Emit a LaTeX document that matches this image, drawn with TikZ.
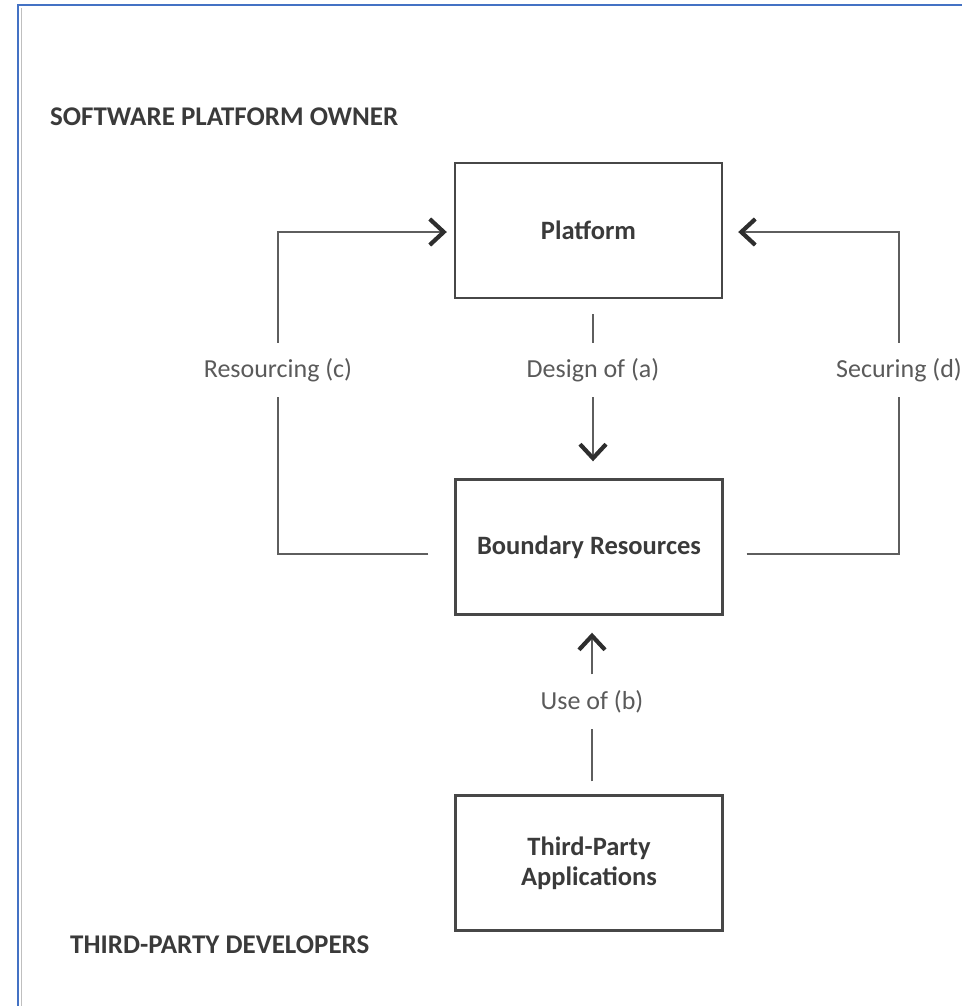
\documentclass[tikz,border=0pt]{standalone}
\usepackage{fontspec}
\setmainfont{Carlito}
\usetikzlibrary{arrows.meta}
\definecolor{frameblue}{HTML}{4472C4}
\definecolor{boxline}{HTML}{474747}
\definecolor{connline}{HTML}{5E5E5E}
\definecolor{tipcolor}{HTML}{2E2E2E}
\definecolor{headtext}{HTML}{3A3A3A}
\definecolor{labeltext}{HTML}{5A5A5A}
\tikzset{
  block/.style={draw=boxline, line width=2.4pt, minimum width=267pt, minimum height=135pt,
    inner sep=0pt, align=center, text=headtext,
    font=\fontsize{26.5pt}{30pt}\selectfont\bfseries},
  heading/.style={anchor=west, inner sep=0pt, text=headtext,
    font=\fontsize{27pt}{30pt}\selectfont\bfseries},
  flowlabel/.style={inner sep=0pt, minimum height=54pt, text=labeltext,
    font=\fontsize{26pt}{30pt}\selectfont},
  conn/.style={draw=connline, line width=1.8pt},
  tip/.style={-{Straight Barb[length=14pt,width=26pt,line width=4.2pt,color=tipcolor]}}
}
\begin{document}
\begin{tikzpicture}[x=1pt,y=-1pt]
  \useasboundingbox (0,0) rectangle (961,1006);
  % page frame (left and top edges)
  \draw[color=black!25, line width=1pt] (21,1010) -- (21,8);
  \draw[frameblue, line width=2pt] (18,1010) -- (18,5) -- (965,5);

  % group headings
  \node[heading] (owner) at (50,117) {SOFTWARE PLATFORM OWNER};
  \node[heading] (devs)  at (70,945) {THIRD-PARTY DEVELOPERS};

  % main blocks
  \node[block] (plat)  at (588.5,230.5) {Platform};
  \node[block] (bound) at (589,547)   {Boundary Resources};
  \node[block] (third) at (589,863)   {Third-Party\\Applications};

  % relation labels
  \node[flowlabel] (laba) at (593,370) {Design of (a)};
  \node[flowlabel] (labb) at (592,701.5) {Use of (b)};
  \node[flowlabel] (labc) at (278,370) {Resourcing (c)};
  \node[flowlabel] (labd) at (899,370) {Securing (d)};

  % design of (a): platform -> boundary resources
  \draw[conn, shorten <=15pt] (plat.south -| laba) -- (laba.north);
  \draw[conn, tip, shorten >=17pt] (laba.south) -- (bound.north -| laba);

  % use of (b): third-party applications -> boundary resources
  \draw[conn, shorten <=13pt] (third.north -| labb) -- (labb.south);
  \draw[conn, tip, shorten >=17pt] (labb.north) -- (bound.south -| labb);

  % resourcing (c): boundary resources -> platform, left loop
  \draw[conn, shorten <=26pt] ([yshift=-7pt]bound.west) -| (labc.south);
  \draw[conn, tip, shorten >=7pt] (labc.north) |- ([yshift=-1.5pt]plat.west);

  % securing (d): boundary resources -> platform, right loop
  \draw[conn, shorten <=23pt] ([yshift=-7pt]bound.east) -| (labd.south);
  \draw[conn, tip, shorten >=15pt] (labd.north) |- ([yshift=-1.5pt]plat.east);
\end{tikzpicture}
\end{document}
